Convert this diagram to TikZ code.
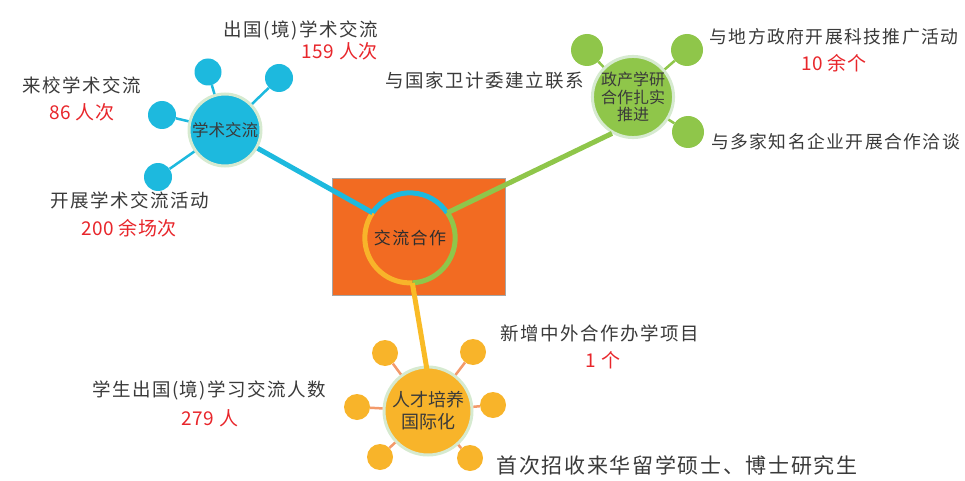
\documentclass[tikz,border=0pt]{standalone}
\usepackage{fontspec}
\setmainfont{Noto Sans CJK SC}
\newfontfamily\lblfont[LetterSpace=8]{Noto Sans CJK SC}
\newfontfamily\numfont[LetterSpace=3]{Noto Sans CJK SC}
\usetikzlibrary{calc}
\definecolor{cyanc}{HTML}{1DB9DE}
\definecolor{greenc}{HTML}{8FC64A}
\definecolor{yellc}{HTML}{F8B42A}
\definecolor{orangec}{HTML}{F26B22}
\definecolor{redc}{HTML}{E8262B}
\definecolor{grayc}{HTML}{3A3A3A}
\definecolor{palec}{HTML}{D6EAD0}
\definecolor{salmonc}{HTML}{F39A6B}
\tikzset{
  hub/.style={circle, draw=palec, line width=3pt, inner sep=0pt, text=grayc, align=center},
  sat/.style={circle, inner sep=0pt},
  lbl/.style={font=\lblfont\fontsize{18.5}{20}\selectfont, text=grayc, inner sep=0pt},
  lblsm/.style={font=\lblfont\fontsize{17.8}{20}\selectfont, text=grayc, inner sep=0pt},
  num/.style={font=\numfont\fontsize{19}{21}\selectfont, text=redc, inner sep=0pt},
  thin/.style={line width=2.5pt},
  thick/.style={line width=5pt},
}
\begin{document}
\begin{tikzpicture}[x=1pt,y=1pt]
\useasboundingbox (0,0) rectangle (965,480);
% central block
\node[draw=gray!70, fill=orangec, minimum width=173pt, minimum height=117pt, inner sep=0pt, line width=0.8pt] (box) at (418.5,243.5) {};
\node[circle, minimum size=90pt, inner sep=0pt, font=\lblfont\fontsize{17}{19}\selectfont, text=grayc!80!black] (ring) at (410,242) {交流合作};
\draw[cyanc, thick] (ring.146) arc[start angle=146, end angle=34, radius=45pt];
\draw[greenc, thick] (ring.34) arc[start angle=34, end angle=-87, radius=45pt];
\draw[yellc, thick] (ring.146) arc[start angle=146, end angle=273, radius=45pt];

% blue hub
\node[hub, fill=cyanc, minimum size=72pt, font=\fontsize{16.5}{18}\selectfont] (xs) at (225,350) {学术交流};
\node[sat, fill=cyanc, minimum size=27pt] (xs1) at (208,408) {};
\node[sat, fill=cyanc, minimum size=28pt] (xs2) at (279,402) {};
\node[sat, fill=cyanc, minimum size=28pt] (xs3) at (162,365) {};
\node[sat, fill=cyanc, minimum size=28pt] (xs4) at (158,303) {};
\draw[cyanc, thin] (xs1) -- (xs);
\draw[cyanc, thin] (xs2) -- (xs);
\draw[cyanc, thin] (xs3) -- (xs);
\draw[cyanc, thin] (xs4) -- (xs);
\draw[cyanc, thick] (xs) -- (ring.146);

% green hub
\node[hub, fill=greenc, minimum size=80pt, font=\fontsize{16}{17.5}\selectfont] (zc) at (633,383) {政产学研\\合作扎实\\推进};
\node[sat, fill=greenc, minimum size=32pt] (zc1) at (587,430) {};
\node[sat, fill=greenc, minimum size=32pt] (zc2) at (687,430) {};
\node[sat, fill=greenc, minimum size=32pt] (zc3) at (688,348) {};
\draw[greenc, thin] (zc1) -- (zc);
\draw[greenc, thin] (zc2) -- (zc);
\draw[greenc, thin] (zc3) -- (zc);
\draw[greenc, thick] (zc.240) -- (ring.34);

% yellow hub
\node[hub, fill=yellc, minimum size=88pt, font=\fontsize{18}{22}\selectfont] (rc) at (428,69) {人才培养\\国际化};
\node[sat, fill=yellc, minimum size=26pt] (rc1) at (385,127) {};
\node[sat, fill=yellc, minimum size=26pt] (rc2) at (473,128) {};
\node[sat, fill=yellc, minimum size=26pt] (rc3) at (357,73) {};
\node[sat, fill=yellc, minimum size=26pt] (rc4) at (493,75) {};
\node[sat, fill=yellc, minimum size=26pt] (rc5) at (380,23) {};
\node[sat, fill=yellc, minimum size=26pt] (rc6) at (470,22) {};
\foreach \i in {1,...,6} \draw[salmonc, thin] (rc\i) -- (rc);
\coordinate (rcin) at (427,110);
\draw[yellc!90!yellow, thick] (ring.273) -- (rcin);

% labels
\node[lbl, anchor=east] (t1) at (378,450) {出国(境)学术交流};
\node[num, anchor=east] (n1) at (378,429) {159 人次};
\node[lbl] (t2) at (82,395) {来校学术交流};
\node[num] (n2) at (82,368) {86 人次};
\node[lbl] (t3) at (130,280) {开展学术交流活动};
\node[num] (n3) at (129,252) {200 余场次};
\node[lbl, anchor=east] (t4) at (584,400) {与国家卫计委建立联系};
\node[lblsm] (t5) at (834,443) {与地方政府开展科技推广活动};
\node[num] (n5) at (834,417) {10 余个};
\node[lblsm, anchor=east] (t6) at (960,338) {与多家知名企业开展合作洽谈};
\node[lbl] (t7) at (600,147) {新增中外合作办学项目};
\node[num] (n7) at (603,120) {1 个};
\node[lbl] (t8) at (209,90) {学生出国(境)学习交流人数};
\node[num] (n8) at (210,62) {279 人};
\node[lbl, font=\lblfont\fontsize{21}{23}\selectfont] (t9) at (677,15) {首次招收来华留学硕士、博士研究生};
\end{tikzpicture}
\end{document}
